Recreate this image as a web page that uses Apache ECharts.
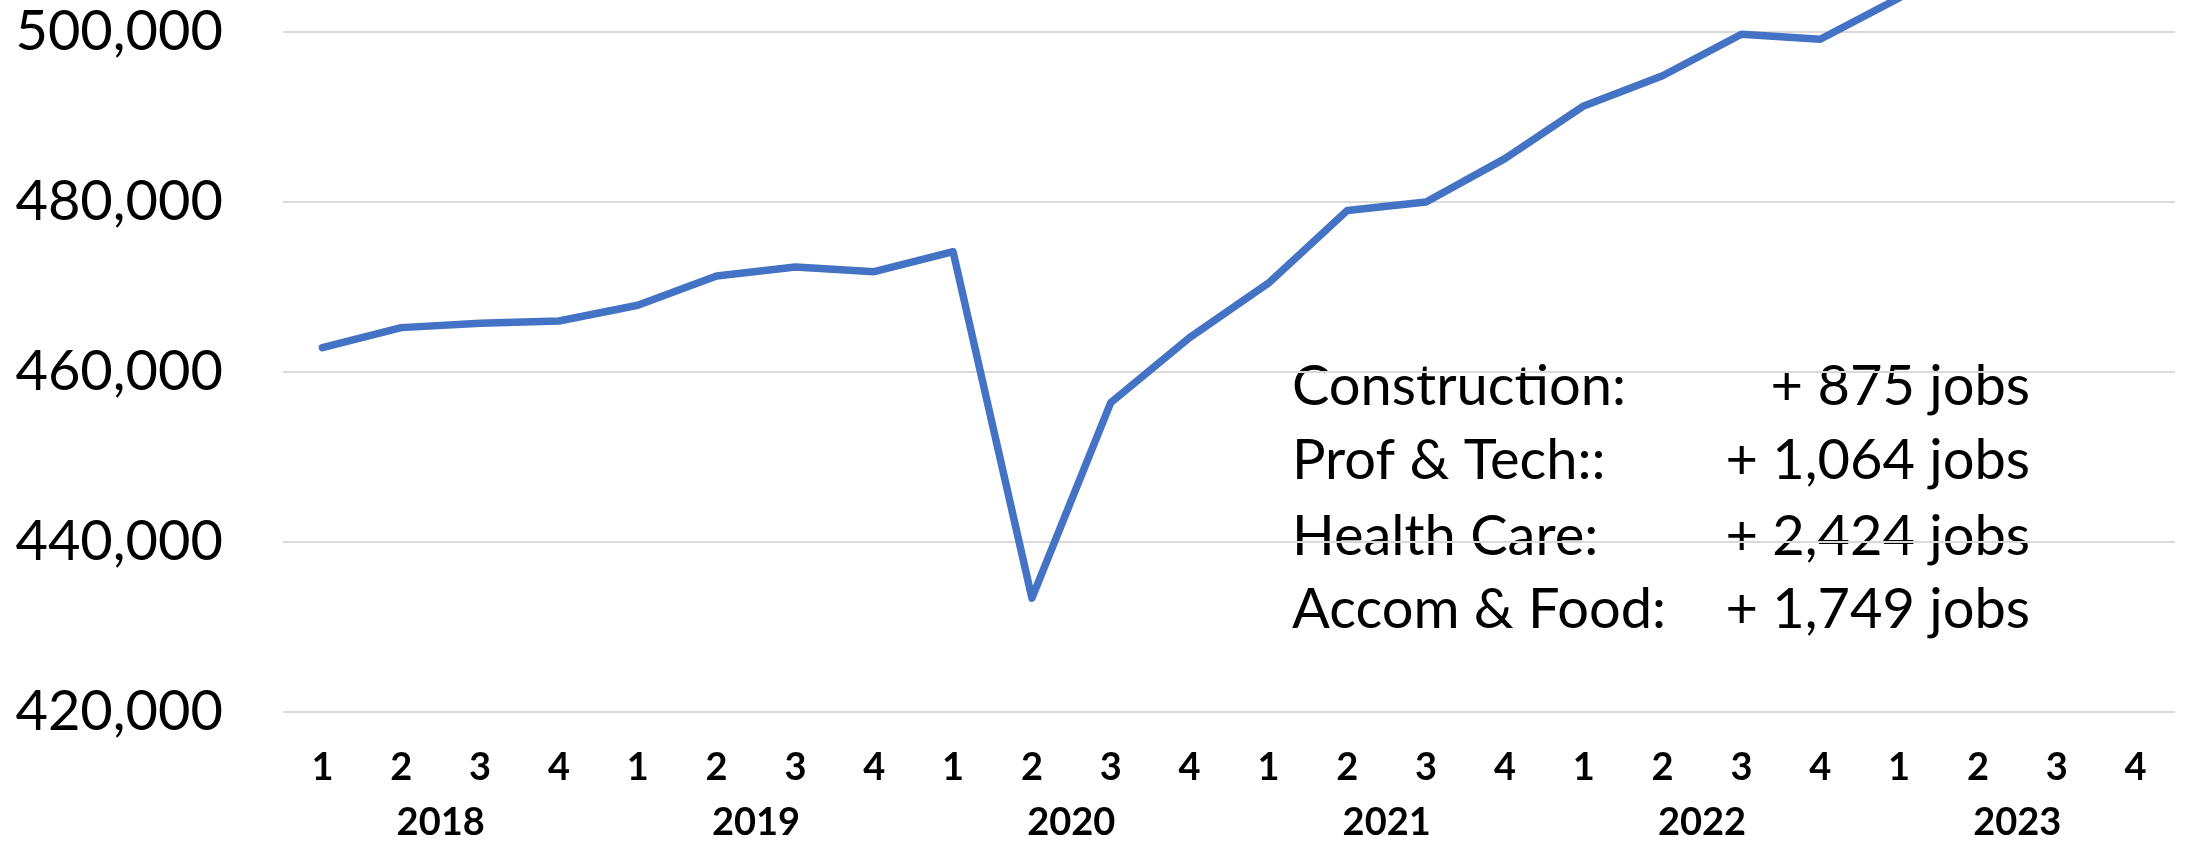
<!DOCTYPE html>
<html>
<head>
<meta charset="utf-8">
<script src="https://cdn.jsdelivr.net/npm/echarts@6/dist/echarts.min.js"></script>
<style>
  html, body { margin: 0; padding: 0; background: #fff; }
  #chart { width: 2186px; height: 842px; }
</style>
</head>
<body>
<div id="chart"></div>
<script>
// quarterly employment, 2018 Q1 .. 2023 Q4
const quarters = ['1', '2', '3', '4', '1', '2', '3', '4', '1', '2', '3', '4',
  '1', '2', '3', '4', '1', '2', '3', '4', '1', '2', '3', '4']
const years = ['2018', '2019', '2020', '2021', '2022', '2023']
const jobs = [
  462870, 465220, 465730, 466000,
  467850, 471300, 472350, 471800,
  474150, 433400, 456400, 464050,
  470450, 479000, 480000, 485100,
  491300, 494850, 499730, 499150,
  504000, null, null, null
]
const yTicks = [420000, 520000, 20000] // min, max, step

// annotation rows
const sectors = ['Construction:', 'Prof & Tech::', 'Health Care:', 'Accom & Food:']
const gains = ['+ 875 jobs', '+ 1,064 jobs', '+ 2,424 jobs', '+ 1,749 jobs']

const font = 'Lato, "Open Sans", sans-serif'
const rowY = [387, 461, 537, 610]

const graphic = []
sectors.forEach((s, i) => {
  graphic.push({
    type: 'text', x: 1292, y: rowY[i],
    style: { text: s, font: '56px ' + font, fill: '#000', align: 'left', textAlign: 'left', verticalAlign: 'middle', textVerticalAlign: 'middle' }
  })
  graphic.push({
    type: 'text', x: 2030, y: rowY[i],
    style: { text: gains[i], font: '56px ' + font, fill: '#000', align: 'right', textAlign: 'right', verticalAlign: 'middle', textVerticalAlign: 'middle' }
  })
})

const chart = echarts.init(document.getElementById('chart'), null, { renderer: 'canvas' })
chart.setOption({
  animation: false,
  grid: { left: 283, right: 11, top: -138, bottom: 130, containLabel: false, outerBoundsMode: 'none' },
  xAxis: [
    {
      type: 'category',
      data: quarters,
      boundaryGap: true,
      axisLine: { show: false },
      axisTick: { show: false },
      axisLabel: {
        interval: 0, margin: 56, verticalAlign: 'middle',
        fontFamily: font, fontWeight: 'bold', fontSize: 38, color: '#000'
      }
    },
    {
      type: 'category',
      data: years,
      position: 'bottom',
      boundaryGap: true,
      axisLine: { show: false },
      axisTick: { show: false },
      splitLine: { show: false },
      axisLabel: {
        interval: 0, margin: 111, verticalAlign: 'middle',
        fontFamily: font, fontWeight: 'bold', fontSize: 38, color: '#000'
      }
    }
  ],
  yAxis: {
    type: 'value',
    min: yTicks[0], max: yTicks[1], interval: yTicks[2],
    axisLine: { show: false },
    axisTick: { show: false },
    splitLine: { lineStyle: { color: '#d9d9d9', width: 2 } },
    axisLabel: {
      margin: 60, fontFamily: font, fontSize: 56, color: '#000',
      formatter: v => v.toLocaleString('en-US')
    }
  },
  series: [{
    type: 'line',
    data: jobs,
    xAxisIndex: 0,
    symbol: 'none',
    lineStyle: { color: '#4472c4', width: 7.5, cap: 'round', join: 'round' }
  }],
  graphic: graphic
})
</script>
</body>
</html>
